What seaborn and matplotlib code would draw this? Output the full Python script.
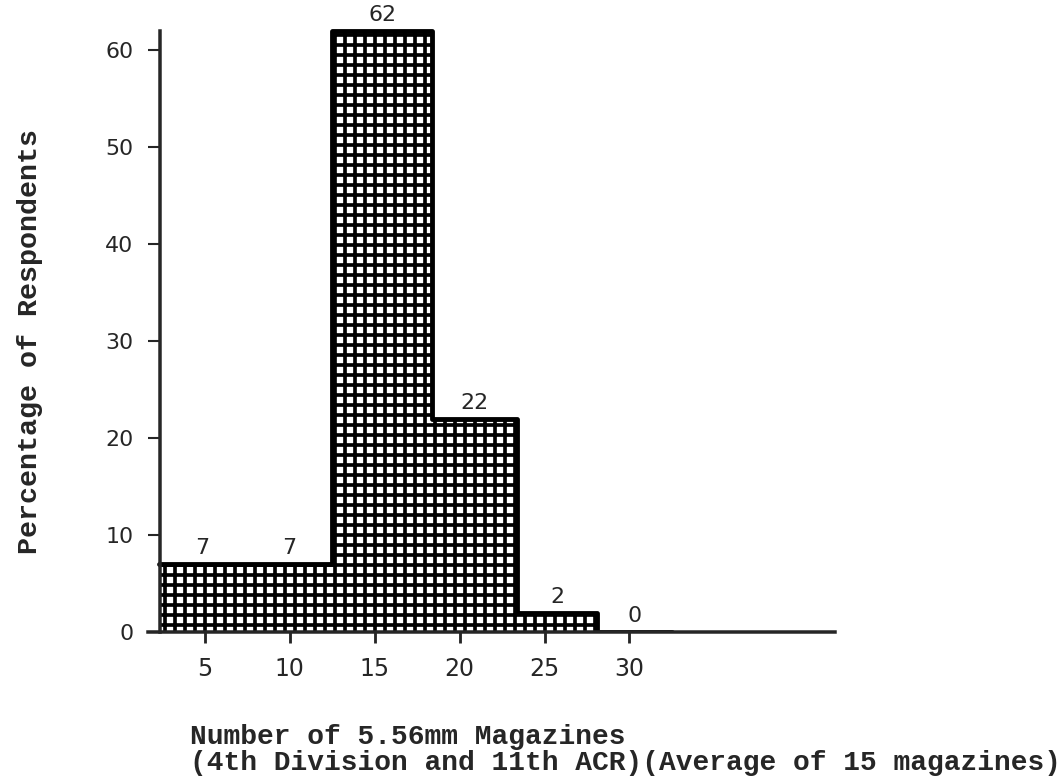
import matplotlib
matplotlib.use("Agg")
import matplotlib.pyplot as plt
import seaborn as sns
import numpy as np

# Dados (bins irregulares como no desenho original)
bin_edges = [2.3, 7.4, 12.5, 18.4, 23.4, 28.1, 32.5]
percentuais = [7, 7, 62, 22, 2, 0]
x_ticks = [5, 10, 15, 20, 25, 30]
y_ticks = [0, 10, 20, 30, 40, 50, 60]

centros = [(a + b) / 2 for a, b in zip(bin_edges[:-1], bin_edges[1:])]

DPI = 120
W, H = 1062, 781

sns.set_style("ticks")
plt.rcParams["hatch.linewidth"] = 2.2

fig = plt.figure(figsize=(W / DPI, H / DPI), dpi=DPI)
ax = fig.add_axes([148 / W, 149 / H, 687 / W, 630 / H])

# Barras com hachura em grade
sns.histplot(x=centros, weights=percentuais, bins=bin_edges, stat="count",
             color="white", edgecolor="black", linewidth=0, hatch="++",
             alpha=1, ax=ax)
# Contorno do histograma
sns.histplot(x=centros, weights=percentuais, bins=bin_edges, stat="count",
             element="step", fill=False, color="black", linewidth=2.9, ax=ax)

ax.set_xlim(1.66, 42.1)
ax.set_ylim(0, 65)

# Rótulos acima das barras
for c, v in zip(centros, percentuais):
    ax.text(c, v + 0.6, str(v), ha="center", va="bottom", fontsize=13.3,
            family="DejaVu Sans", clip_on=False)

ax.set_xticks(x_ticks)
ax.set_yticks(y_ticks)
ax.tick_params(axis="x", length=6.7, width=1.7, labelsize=14.2, pad=8.3)
ax.tick_params(axis="y", length=7.5, width=1.25, labelsize=13.3, pad=8.3)

sns.despine(ax=ax)
ax.spines["left"].set_position(("data", 2.36))
ax.spines["left"].set_bounds(0, 62)
ax.spines["left"].set_linewidth(2.1)
ax.spines["bottom"].set_linewidth(2.1)
ax.set_xlabel("")
ax.set_ylabel("")

fig.text(30 / W, 1 - 342 / H, "Percentage of Respondents", rotation=90,
         ha="center", va="center", fontsize=17, family="Liberation Mono",
         weight="bold")
fig.text(190 / W, 1 - 750 / H,
         "Number of 5.56mm Magazines\n(4th Division and 11th ACR)(Average of 15 magazines)",
         ha="left", va="center", fontsize=16.7, family="Liberation Mono",
         weight="bold", linespacing=1.0)

fig.savefig("out.png", dpi=DPI)
